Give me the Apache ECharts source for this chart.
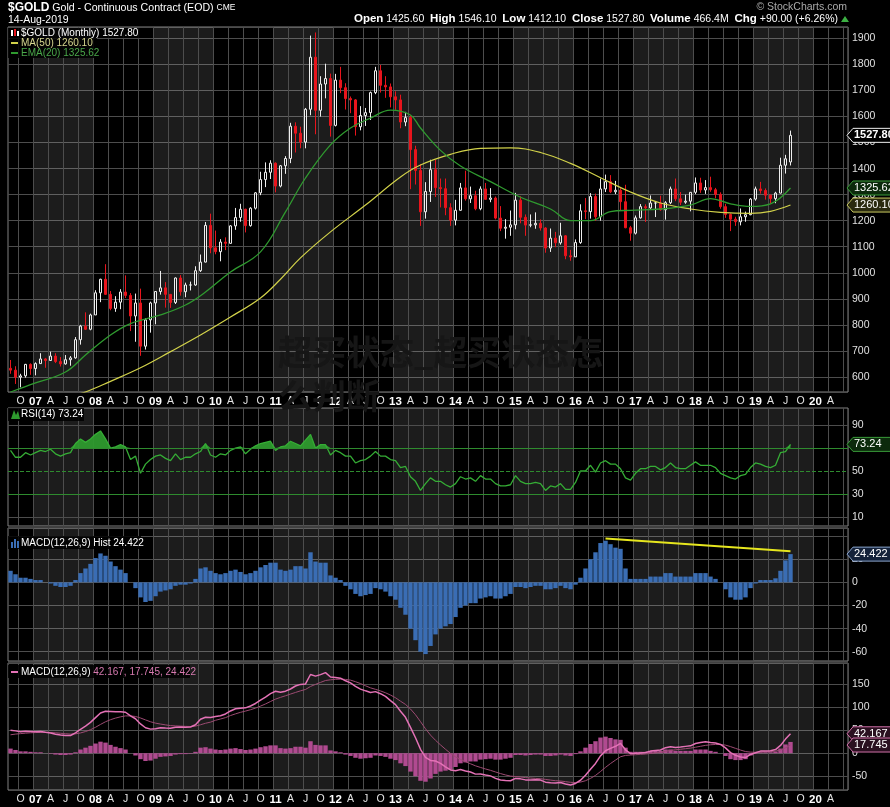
<!DOCTYPE html>
<html><head><meta charset="utf-8">
<script src="https://cdn.jsdelivr.net/npm/echarts@6/dist/echarts.min.js"></script>
<style>html,body{margin:0;padding:0;background:#000;}#c{width:890px;height:807px;}</style>
</head><body><div id="c"></div><script>
// ---------- DATA (monthly, Aug 2006 .. Aug 2019) ----------
const opens = [633,626,599,604,648,
632,651,669,663,680,659,650,666,673,743,795,783,
838,923,975,917,863,887,926,913,834,884,718,819,
884,928,942,917,886,980,927,953,953,1008,1041,1182,
1096,1081,1118,1113,1180,1212,1244,1181,1248,1307,1358,1386,
1421,1333,1411,1439,1563,1536,1502,1628,1828,1624,1725,1746,
1566,1740,1711,1669,1664,1561,1604,1615,1692,1776,1720,1714,
1676,1664,1579,1596,1473,1393,1234,1312,1396,1327,1323,1250,
1202,1240,1326,1284,1296,1246,1322,1282,1287,1210,1171,1175,
1184,1279,1213,1183,1184,1190,1172,1095,1133,1115,1142,1065,
1061,1116,1238,1235,1293,1215,1322,1350,1311,1317,1273,1173,
1152,1211,1254,1249,1268,1268,1242,1269,1322,1284,1271,1275,
1309,1345,1318,1327,1319,1301,1254,1224,1206,1196,1215,1223,
1283,1322,1316,1298,1285,1306,1413,1425.6];
const highs = [665,641,612,650,652,
656,691,673,697,691,676,684,680,753,800,848,843,
933,977,1033,930,910,937,990,922,920,939,825,889,
929,1007,964,917,982,991,962,966,1025,1070,1195,1227,
1162,1129,1136,1183,1249,1265,1246,1252,1310,1388,1424,1432,
1424,1414,1448,1576,1578,1561,1633,1911,1923,1755,1803,1765,
1764,1791,1728,1677,1667,1640,1633,1696,1791,1798,1755,1727,
1697,1684,1618,1605,1488,1417,1348,1434,1434,1362,1362,1267,
1280,1345,1392,1331,1315,1332,1345,1325,1293,1256,1206,1239,
1307,1294,1224,1224,1232,1205,1175,1170,1157,1192,1145,1088,
1128,1263,1287,1306,1304,1362,1377,1375,1353,1325,1338,1180,
1220,1264,1263,1297,1273,1296,1275,1331,1362,1310,1300,1310,
1366,1365,1356,1369,1326,1309,1265,1228,1215,1247,1235,1287,
1331,1349,1324,1300,1311,1442,1453,1546.1];
const lows = [612,573,560,597,608,
606,650,635,661,653,640,647,643,670,724,780,779,
838,887,915,856,850,860,903,776,735,681,705,770,
802,916,866,865,880,912,906,932,950,1003,1040,1075,
1071,1044,1087,1111,1165,1196,1155,1177,1243,1298,1329,1360,
1309,1328,1380,1421,1462,1478,1478,1605,1532,1600,1670,1523,
1562,1690,1627,1613,1527,1547,1564,1587,1686,1692,1672,1635,
1626,1555,1563,1321,1339,1180,1208,1272,1291,1251,1221,1180,
1182,1238,1277,1268,1240,1240,1281,1271,1205,1160,1131,1142,
1167,1190,1142,1175,1169,1162,1077,1080,1098,1108,1052,1046,
1061,1111,1206,1208,1199,1200,1310,1306,1302,1241,1171,1123,
1147,1208,1195,1245,1214,1238,1204,1264,1275,1260,1265,1236,
1302,1307,1303,1311,1286,1246,1211,1160,1180,1182,1196,1221,
1277,1304,1281,1266,1267,1305,1381,1412.1];
const closes = [626,599,604,648,632,
651,669,663,680,659,650,666,673,743,795,783,838,
923,975,917,863,887,926,913,834,884,718,819,884,
928,942,917,886,980,927,953,953,1008,1041,1182,1096,
1081,1118,1113,1180,1212,1244,1181,1248,1307,1358,1386,1421,
1333,1411,1439,1563,1536,1502,1628,1828,1624,1725,1746,1566,
1740,1711,1669,1664,1561,1604,1615,1692,1776,1720,1714,1676,
1664,1579,1596,1473,1393,1234,1312,1396,1327,1323,1250,1202,
1240,1326,1284,1296,1246,1322,1282,1287,1210,1171,1175,1184,
1279,1213,1183,1184,1190,1172,1095,1133,1115,1142,1065,1061,
1116,1238,1235,1293,1215,1322,1350,1311,1317,1273,1173,1152,
1211,1254,1249,1268,1268,1242,1269,1322,1284,1271,1275,1309,
1345,1318,1327,1319,1301,1254,1224,1206,1196,1215,1223,1283,
1322,1316,1298,1285,1306,1413,1437.8,1527.8];
// moving averages at sample months
const ma50 = [['2007-08',528],['2007-11',542],['2008-04',583],['2008-10',635],['2009-04',697],['2009-10',761],['2010-04',830],['2010-10',903],['2011-02',975],['2011-06',1057],['2011-12',1157],['2012-07',1260],['2013-02',1368],['2013-06',1414],['2013-12',1455],['2014-06',1478],['2014-12',1480],['2015-06',1462],['2015-12',1420],['2016-06',1365],['2016-12',1310],['2017-06',1268],['2017-12',1245],['2018-06',1232],['2018-12',1228],['2019-04',1236],['2019-08',1260.1]];
const ema20 = [['2006-08',542],['2006-12',570],['2007-07',619],['2007-11',684],['2008-04',761],['2008-08',805],['2009-02',838],['2009-07',876],['2009-11',926],['2010-04',1003],['2010-10',1080],['2011-03',1234],['2011-07',1364],['2011-12',1491],['2012-04',1556],['2012-08',1594],['2012-12',1625],['2013-04',1606],['2013-06',1556],['2013-10',1470],['2014-02',1410],['2014-08',1350],['2015-02',1290],['2015-08',1245],['2015-12',1200],['2016-04',1200],['2016-08',1235],['2016-12',1240],['2017-06',1245],['2017-12',1260],['2018-04',1285],['2018-08',1265],['2018-12',1255],['2019-04',1265],['2019-08',1325.62]];
const rsi = [68,62,62,66,64,
66,68,67,69,65,63,65,66,74,78,75,78,
82,85,78,70,71,73,71,60,63,48,56,60,
63,64,61,59,65,60,62,62,65,67,74,64,
62,65,64,68,70,71,65,69,72,74,75,76,
68,71,72,76,74,72,77,82,70,73,73,64,
68,66,63,63,57,59,60,63,67,63,63,60,
59,53,54,45,41,33,39,44,41,41,38,36,
39,45,43,44,41,46,43,43,39,37,37,38,
46,41,39,39,40,39,33,37,36,39,34,34,
40,50,50,55,49,57,59,56,56,52,44,42,
48,52,52,54,54,51,53,57,53,52,52,55,
58,55,55,55,53,48,46,44,43,46,47,53,
57,56,54,53,55,66,67,73.24];
const hist = [10,7,4,4,3,
2,2,0,-1,-3,-4,-4,-3,2,8,12,16,
21,25,23,18,14,11,8,0,-5,-13,-17,-16,
-12,-8,-7,-6,-3,-2,-2,-1,3,12,13,10,
8,7,8,10,11,9,7,8,10,13,15,17,
17,11,10,11,14,14,12,26,18,17,17,6,
4,2,-3,-6,-10,-12,-11,-10,-5,-6,-8,-12,
-15,-22,-28,-40,-50,-60,-62,-55,-45,-40,-38,-36,
-30,-22,-20,-18,-18,-14,-13,-12,-14,-14,-12,-10,
-4,-4,-5,-4,-3,-3,-6,-6,-5,-3,-5,-6,
-2,4,12,20,26,34,36,33,30,29,12,3,
3,3,3,5,5,5,8,8,5,5,5,5,
8,8,8,5,3,0,-6,-13,-15,-15,-13,-5,
-1,2,2,2,3.5,10,19,24.422];
const signal = [40,41.5,42.5,43.5,44.3,
44.8,45.3,45.3,45,44.3,43.3,42.3,41.5,42,44,47,51,
56.3,62.5,68.3,72.8,76.3,79,81,81,79.8,76.5,72.3,68.3,
65.3,63.3,61.5,60,59.3,58.8,58.3,58,58.8,61.8,65,67.5,
71.5,74.3,77.3,81.8,85.5,88.8,91.5,94.5,98,102.3,107,112.3,
117.5,121.3,124.8,128.5,132,135.5,138.5,145,149.5,153.8,158,159.5,
160.5,161,160.3,158.8,155.3,151.3,146.5,142,138.8,135.3,131.3,126.3,
120.5,113,106,96,83.5,68.5,53,39.3,28,18,8.5,-0.5,
-8,-13.5,-18.5,-23,-27.5,-31,-34.3,-37.3,-40.8,-44.3,-47.3,-49.8,
-50.8,-51.8,-53,-54,-54.8,-55.5,-57,-58.5,-59.8,-60.5,-61.8,-63.3,
-63.8,-62.8,-59.8,-54.8,-48.3,-39.8,-30.8,-22.5,-15,-7.8,-4.8,-4,
-3.3,-2.5,-1.8,-0.5,0.8,2,4,6,7.3,8.5,9.8,11,
13,15,17,18.3,19,19,17.5,14.3,10.5,6.8,3.5,2.3,
2,2.5,3,3.5,4.4,6.9,11.6,17.745];
const macd = [50,48.5,46.5,47.5,47.3,
46.8,47.3,45.3,44,41.3,39.3,38.3,38.5,44,52,59,67,
77.3,87.5,91.3,90.8,90.3,90,89,81,74.8,63.5,55.3,52.3,
53.3,55.3,54.5,54,56.3,56.8,56.3,57,61.8,73.8,78,77.5,
79.5,81.3,85.3,91.8,96.5,97.8,98.5,102.5,108,115.3,122,129.3,
134.5,132.3,134.8,139.5,146,149.5,150.5,171,167.5,170.8,175,165.5,
164.5,163,157.3,152.8,145.3,139.3,135.5,132,133.8,129.3,123.3,114.3,
105.5,91,78,56,33.5,8.5,-9,-15.8,-17,-22,-29.5,-36.5,
-38,-35.5,-38.5,-41,-45.5,-45,-47.3,-49.3,-54.8,-58.3,-59.3,-59.8,
-54.8,-55.8,-58,-58,-57.8,-58.5,-63,-64.5,-64.8,-63.5,-66.8,-69.3,
-65.8,-58.8,-47.8,-34.8,-22.3,-5.8,5.3,10.5,15,21.3,7.3,-1,
-0.3,0.5,1.3,4.5,5.8,7,12,14,12.3,13.5,14.8,16,
21,23,25,23.3,22,19,11.5,1.3,-4.5,-8.3,-9.5,-2.8,
1,4.5,5,5.5,7.9,16.9,30.6,42.167];
const histTrend = [['2016-07',38],['2019-08',27]];
const rsiLevels = [70, 50, 30];
const rsiGrid = [10, 30, 50, 70, 90];

// ---------- categories: Aug 2006 .. Jul 2020 ----------
const months = [];
for (let k = 0; k < 168; k++) {
  const y = 2006 + Math.floor((7 + k) / 12), m = (7 + k) % 12 + 1;
  months.push(y + '-' + String(m).padStart(2, '0'));
}
const FONT = '"Liberation Sans", Arial, sans-serif';
const GRID = '#4d4d4d';
const isQuarter = (i, v) => ['01','04','07','10'].indexOf(String(v).slice(5)) >= 0;
const isQuarterLabel = (i, v) => isQuarter(i, v) && i < months.length - 1;
const isJan = (i, v) => String(v).slice(5) === '01';
const fmtMonth = v => { const m = +v.slice(5); return m === 1 ? '{b|' + v.slice(2,4) + '}' : ({4:'A',7:'J',10:'O'})[m]; };

const grids = [
  {left: 8, right: 42, top: 27, height: 365},
  {left: 8, right: 42, top: 408, height: 118},
  {left: 8, right: 42, top: 528, height: 133},
  {left: 8, right: 42, top: 663, height: 127}
].map(g => Object.assign(g, {show: true, backgroundColor: 'transparent', borderColor: '#808080', borderWidth: 1}));

function xAx(gi, lbl) {
  return {type: 'category', gridIndex: gi, data: months, boundaryGap: true,
    axisLine: {show: false}, axisTick: {show: false},
    axisLabel: {show: lbl, interval: isQuarterLabel, formatter: fmtMonth, color: '#e6e6e6', fontSize: 10.5, fontFamily: FONT, margin: 4,
      rich: {b: {fontWeight: 'bold', fontSize: 11.5, color: '#fff', fontFamily: FONT}}},
    splitLine: {show: true, interval: isQuarter, lineStyle: {color: GRID, width: 1}},
    splitArea: {show: true, interval: isJan, areaStyle: {color: ['rgba(0,0,0,0)', 'rgba(255,255,255,0.11)']}}};
}
function yAx(gi, min, max, split, fmt, showSplit) {
  return {type: 'value', gridIndex: gi, position: 'right', min, max, splitNumber: split, scale: true,
    axisLine: {show: false}, axisTick: {show: false},
    axisLabel: {formatter: fmt, color: '#e0e0e0', fontSize: 10.5, fontFamily: FONT, margin: 4},
    splitLine: {show: showSplit, lineStyle: {color: GRID, width: 1}}};
}

const candleData = opens.map((o, i) => [o, closes[i], lows[i], highs[i]]);
const rsiBase = rsi.map(() => 70);
const rsiOver = rsi.map(v => Math.max(v - 70, 0));

const chart = echarts.init(document.getElementById('c'));
chart.setOption({
  backgroundColor: '#000', animation: false,
  grid: grids,
  xAxis: [xAx(0, true), xAx(1, false), xAx(2, false), xAx(3, true)],
  yAxis: [
    yAx(0, 542, 1944, 14, v => v % 100 === 0 ? v : '', true),
    yAx(1, 2, 105, 10, v => rsiGrid.indexOf(v) >= 0 ? v : '', false),
    yAx(2, -68, 47, 6, v => (v % 20 === 0 && v < 40) ? v : '', true),
    yAx(3, -80, 196, 5, v => v % 50 === 0 ? v : '', true)
  ],
  series: [
    {type: 'candlestick', xAxisIndex: 0, yAxisIndex: 0, data: candleData, barWidth: 3,
      itemStyle: {color: 'rgba(0,0,0,0)', color0: '#e8141c', borderColor: '#eeeeee', borderColor0: '#e8141c', borderWidth: 1}},
    {type: 'line', xAxisIndex: 0, yAxisIndex: 0, data: ma50, showSymbol: false, smooth: 0.4, lineStyle: {color: '#d2d24a', width: 1.2}},
    {type: 'line', xAxisIndex: 0, yAxisIndex: 0, data: ema20, showSymbol: false, smooth: 0.4, lineStyle: {color: '#2f9a2f', width: 1.3}},
    {type: 'line', xAxisIndex: 1, yAxisIndex: 1, data: rsiBase, stack: 'ob', showSymbol: false, lineStyle: {width: 0, color: 'rgba(0,0,0,0)'}},
    {type: 'line', xAxisIndex: 1, yAxisIndex: 1, data: rsiOver, stack: 'ob', showSymbol: false, lineStyle: {width: 0, color: 'rgba(0,0,0,0)'},
      areaStyle: {color: '#2e9a2e', opacity: 0.95}},
    {type: 'line', xAxisIndex: 1, yAxisIndex: 1, data: rsi, showSymbol: false, lineStyle: {color: '#35ad35', width: 1.3},
      markLine: {silent: true, symbol: 'none', label: {show: false},
        data: rsiGrid.map(v => ({yAxis: v, lineStyle: rsiLevels.indexOf(v) >= 0
          ? {color: '#2e8b2e', width: 1, type: v === 50 ? 'dashed' : 'solid', opacity: 1}
          : {color: GRID, width: 1, type: 'solid', opacity: 1}}))}},
    {type: 'bar', xAxisIndex: 2, yAxisIndex: 2, data: hist, barCategoryGap: '12%', itemStyle: {color: '#3a6db4'},
      markLine: {silent: true, symbol: 'none', label: {show: false}, lineStyle: {color: '#e6e61e', width: 2, type: 'solid'},
        data: [[{coord: histTrend[0]}, {coord: histTrend[1]}]]}},
    {type: 'bar', xAxisIndex: 3, yAxisIndex: 3, data: hist, barCategoryGap: '12%', itemStyle: {color: '#b04a90'}},
    {type: 'line', xAxisIndex: 3, yAxisIndex: 3, data: signal, showSymbol: false, lineStyle: {color: '#9c4a72', width: 1}},
    {type: 'line', xAxisIndex: 3, yAxisIndex: 3, data: macd, showSymbol: false, lineStyle: {color: '#e472b6', width: 1.5}}
  ]
});

// ---------- texts / tags ----------
function txt(x, y, text, font, fill, align, rich) {
  return {type: 'text', x, y, z: 100, silent: true,
    style: {text, font, fill, align: align || 'left', verticalAlign: 'middle', textAlign: align || 'left', textVerticalAlign: 'middle', rich}};
}
function rect(x, y, w, h, fill) { return {type: 'rect', z: 99, silent: true, shape: {x, y, width: w, height: h}, style: {fill}}; }
function tag(axis, value, text, border, bg, color, bold) {
  const y = chart.convertToPixel({yAxisIndex: axis}, value);
  return {type: 'group', x: 847, y, z: 120, silent: true, children: [
    {type: 'polygon', z: 120, shape: {points: [[0,0],[6,-7],[46,-7],[46,7],[6,7]]}, style: {fill: bg, stroke: border, lineWidth: 1}},
    {type: 'text', z: 121, x: 7, y: 0, style: {text, fill: color, font: (bold ? 'bold ' : '') + '11px ' + FONT, verticalAlign: 'middle', textVerticalAlign: 'middle'}}
  ]};
}
const last = closes.length - 1;
const graphics = [
  txt(8, 8, '{t|$GOLD} {n|Gold - Continuous Contract (EOD)} {s|CME}', '10.5px ' + FONT, '#fff', 'left',
    {t: {font: 'bold 12px ' + FONT, fill: '#fff'}, n: {font: '10.6px ' + FONT, fill: '#fff'}, s: {font: '8.5px ' + FONT, fill: '#fff'}}),
  txt(8, 20, '14-Aug-2019', '10.5px ' + FONT, '#fff'),
  txt(847, 7, '© StockCharts.com', '10.5px ' + FONT, '#aaa', 'right'),
  txt(838, 19, '{b|Open} 1425.60  {b|High} 1546.10  {b|Low} 1412.10  {b|Close} 1527.80  {b|Volume} 466.4M  {b|Chg} +90.00 (+6.26%)',
    '10.5px ' + FONT, '#fff', 'right', {b: {font: 'bold 11.5px ' + FONT, fill: '#fff'}}),
  {type: 'polygon', z: 100, shape: {points: [[841,22],[849,22],[845,16]]}, style: {fill: '#3cb043'}},
  // price legend
  rect(8, 28, 132, 10, 'rgba(0,0,0,0.85)'),
  rect(8, 38, 89, 20, 'rgba(0,0,0,0.85)'),
  {type: 'rect', z: 100, shape: {x: 11, y: 30, width: 2, height: 6}, style: {fill: '#fff'}},
  {type: 'rect', z: 100, shape: {x: 14, y: 29, width: 2, height: 7}, style: {fill: '#e8141c'}},
  {type: 'rect', z: 100, shape: {x: 17, y: 31, width: 2, height: 5}, style: {fill: '#fff'}},
  txt(21, 33, '$GOLD (Monthly) 1527.80', '10px ' + FONT, '#fff'),
  {type: 'rect', z: 100, shape: {x: 11, y: 42, width: 7, height: 2}, style: {fill: '#d2d24a'}},
  txt(21, 43, 'MA(50) 1260.10', '10px ' + FONT, '#d8d890'),
  {type: 'rect', z: 100, shape: {x: 11, y: 52, width: 7, height: 2}, style: {fill: '#2f9a2f'}},
  txt(21, 53, 'EMA(20) 1325.62', '10px ' + FONT, '#4aa84a'),
  // rsi legend
  rect(8, 408, 76, 13, 'rgba(0,0,0,0.85)'),
  {type: 'polygon', z: 100, shape: {points: [[11,419],[14,410],[16,415],[18,411],[20,419]]}, style: {fill: '#2e9a2e'}},
  txt(21, 414, 'RSI(14) 73.24', '10px ' + FONT, '#fff'),
  // hist legend
  rect(8, 536, 133, 13, 'rgba(0,0,0,0.85)'),
  {type: 'rect', z: 100, shape: {x: 11, y: 542, width: 2, height: 6}, style: {fill: '#3a6db4'}},
  {type: 'rect', z: 100, shape: {x: 14, y: 539, width: 2, height: 9}, style: {fill: '#3a6db4'}},
  {type: 'rect', z: 100, shape: {x: 17, y: 541, width: 2, height: 7}, style: {fill: '#3a6db4'}},
  txt(21, 543, 'MACD(12,26,9) Hist 24.422', '10px ' + FONT, '#fff'),
  // macd legend
  rect(8, 665, 182, 13, 'rgba(0,0,0,0.85)'),
  {type: 'rect', z: 100, shape: {x: 11, y: 671, width: 7, height: 2}, style: {fill: '#e472b6'}},
  txt(21, 672, '{w|MACD(12,26,9)} 42.167, 17.745, 24.422', '10px ' + FONT, '#d77ab0', 'left', {w: {font: '10px ' + FONT, fill: '#fff'}}),
  // watermark
  txt(278, 352, '超买状态_超买状态怎', 'bold 34px "Noto Sans CJK SC"', '#161616'),
  txt(278, 396, '么判断', 'bold 34px "Noto Sans CJK SC"', '#161616'),
  // value tags
  tag(0, closes[last], '1527.80', '#f0f0f0', '#000', '#fff', true),
  tag(0, ema20[ema20.length - 1][1], '1325.62', '#3a9a3a', '#0c2a0c', '#fff', false),
  tag(0, ma50[ma50.length - 1][1], '1260.10', '#c8c860', '#2a2a10', '#fff', false),
  tag(1, rsi[last], '73.24', '#3a9a3a', '#0c2a0c', '#fff', false),
  tag(2, hist[last], '24.422', '#8aa4cc', '#14223a', '#fff', false),
  tag(3, macd[last], '42.167', '#d070a8', '#2a1020', '#fff', false),
  tag(3, signal[last], '17.745', '#d070a8', '#2a1020', '#fff', false)
];
chart.setOption({graphic: graphics});
</script></body></html>
